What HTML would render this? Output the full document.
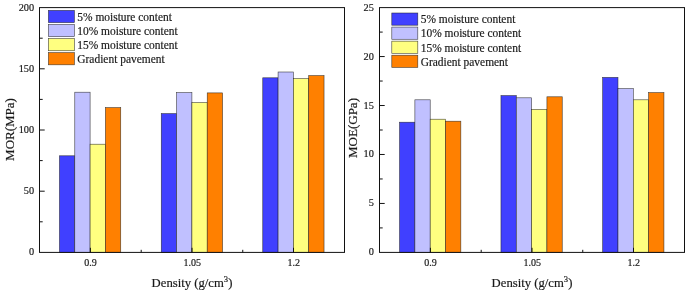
<!DOCTYPE html>
<html><head><meta charset="utf-8"><title>MOR and MOE vs density</title>
<style>
html,body{margin:0;padding:0;background:#fff;}
svg{display:block;font-family:"Liberation Serif","Times New Roman",serif;fill:#1a1a1a;}
text{stroke:#1a1a1a;stroke-width:0.18px;}
</style></head><body>
<svg width="685" height="292" viewBox="0 0 685 292">
<rect x="0" y="0" width="685" height="292" fill="#fff"/>
<rect x="59.46" y="155.80" width="15.32" height="96.60" fill="#4040ff" stroke="#222" stroke-opacity="0.85" stroke-width="0.6"/>
<rect x="74.78" y="92.20" width="15.32" height="160.20" fill="#c0c0ff" stroke="#222" stroke-opacity="0.85" stroke-width="0.6"/>
<rect x="90.10" y="144.20" width="15.32" height="108.20" fill="#ffff80" stroke="#222" stroke-opacity="0.85" stroke-width="0.6"/>
<rect x="105.42" y="107.60" width="15.32" height="144.80" fill="#ff8000" stroke="#222" stroke-opacity="0.85" stroke-width="0.6"/>
<rect x="161.26" y="113.60" width="15.32" height="138.80" fill="#4040ff" stroke="#222" stroke-opacity="0.85" stroke-width="0.6"/>
<rect x="176.58" y="92.60" width="15.32" height="159.80" fill="#c0c0ff" stroke="#222" stroke-opacity="0.85" stroke-width="0.6"/>
<rect x="191.90" y="102.60" width="15.32" height="149.80" fill="#ffff80" stroke="#222" stroke-opacity="0.85" stroke-width="0.6"/>
<rect x="207.22" y="92.90" width="15.32" height="159.50" fill="#ff8000" stroke="#222" stroke-opacity="0.85" stroke-width="0.6"/>
<rect x="262.76" y="77.80" width="15.32" height="174.60" fill="#4040ff" stroke="#222" stroke-opacity="0.85" stroke-width="0.6"/>
<rect x="278.08" y="72.00" width="15.32" height="180.40" fill="#c0c0ff" stroke="#222" stroke-opacity="0.85" stroke-width="0.6"/>
<rect x="293.40" y="78.60" width="15.32" height="173.80" fill="#ffff80" stroke="#222" stroke-opacity="0.85" stroke-width="0.6"/>
<rect x="308.72" y="75.60" width="15.32" height="176.80" fill="#ff8000" stroke="#222" stroke-opacity="0.85" stroke-width="0.6"/>
<rect x="39.5" y="7.6" width="305.0" height="244.8" fill="none" stroke="#111" stroke-width="1"/>
<text x="34.1" y="255.40" text-anchor="end" font-size="10.3">0</text>
<line x1="39.5" y1="221.80" x2="42.7" y2="221.80" stroke="#111" stroke-width="1"/>
<line x1="39.5" y1="191.20" x2="44.7" y2="191.20" stroke="#111" stroke-width="1"/>
<text x="34.1" y="194.20" text-anchor="end" font-size="10.3">50</text>
<line x1="39.5" y1="160.60" x2="42.7" y2="160.60" stroke="#111" stroke-width="1"/>
<line x1="39.5" y1="130.00" x2="44.7" y2="130.00" stroke="#111" stroke-width="1"/>
<text x="34.1" y="133.00" text-anchor="end" font-size="10.3">100</text>
<line x1="39.5" y1="99.40" x2="42.7" y2="99.40" stroke="#111" stroke-width="1"/>
<line x1="39.5" y1="68.80" x2="44.7" y2="68.80" stroke="#111" stroke-width="1"/>
<text x="34.1" y="71.80" text-anchor="end" font-size="10.3">150</text>
<line x1="39.5" y1="38.20" x2="42.7" y2="38.20" stroke="#111" stroke-width="1"/>
<text x="34.1" y="10.60" text-anchor="end" font-size="10.3">200</text>
<line x1="90.4" y1="252.4" x2="90.4" y2="247.8" stroke="#111" stroke-width="1"/>
<line x1="192" y1="252.4" x2="192" y2="247.8" stroke="#111" stroke-width="1"/>
<line x1="293.5" y1="252.4" x2="293.5" y2="247.8" stroke="#111" stroke-width="1"/>
<line x1="141.2" y1="252.4" x2="141.2" y2="249.8" stroke="#111" stroke-width="1"/>
<line x1="242.75" y1="252.4" x2="242.75" y2="249.8" stroke="#111" stroke-width="1"/>
<text x="90.60000000000001" y="266.2" text-anchor="middle" font-size="10">0.9</text>
<text x="192.2" y="266.2" text-anchor="middle" font-size="10">1.05</text>
<text x="293.7" y="266.2" text-anchor="middle" font-size="10">1.2</text>
<text x="192.0" y="287.4" text-anchor="middle" font-size="12.7">Density (g/cm<tspan dy="-5.6" font-size="8.6">3</tspan><tspan dy="5.6">)</tspan></text>
<text transform="translate(13.9,129.5) rotate(-90)" text-anchor="middle" font-size="13">MOR(MPa)</text>
<rect x="48.40" y="10.40" width="26" height="12.2" fill="#4040ff" stroke="#222" stroke-opacity="0.85" stroke-width="0.6"/>
<text x="77.30" y="20.60" font-size="11.45">5% moisture content</text>
<rect x="48.40" y="24.47" width="26" height="12.2" fill="#c0c0ff" stroke="#222" stroke-opacity="0.85" stroke-width="0.6"/>
<text x="77.30" y="34.67" font-size="11.45">10% moisture content</text>
<rect x="48.40" y="38.54" width="26" height="12.2" fill="#ffff80" stroke="#222" stroke-opacity="0.85" stroke-width="0.6"/>
<text x="77.30" y="48.74" font-size="11.45">15% moisture content</text>
<rect x="48.40" y="52.61" width="26" height="12.2" fill="#ff8000" stroke="#222" stroke-opacity="0.85" stroke-width="0.6"/>
<text x="77.30" y="62.81" font-size="11.45">Gradient pavement</text>
<rect x="399.56" y="122.20" width="15.32" height="130.20" fill="#4040ff" stroke="#222" stroke-opacity="0.85" stroke-width="0.6"/>
<rect x="414.88" y="99.80" width="15.32" height="152.60" fill="#c0c0ff" stroke="#222" stroke-opacity="0.85" stroke-width="0.6"/>
<rect x="430.20" y="119.20" width="15.32" height="133.20" fill="#ffff80" stroke="#222" stroke-opacity="0.85" stroke-width="0.6"/>
<rect x="445.52" y="121.20" width="15.32" height="131.20" fill="#ff8000" stroke="#222" stroke-opacity="0.85" stroke-width="0.6"/>
<rect x="500.96" y="95.60" width="15.32" height="156.80" fill="#4040ff" stroke="#222" stroke-opacity="0.85" stroke-width="0.6"/>
<rect x="516.28" y="97.80" width="15.32" height="154.60" fill="#c0c0ff" stroke="#222" stroke-opacity="0.85" stroke-width="0.6"/>
<rect x="531.60" y="109.40" width="15.32" height="143.00" fill="#ffff80" stroke="#222" stroke-opacity="0.85" stroke-width="0.6"/>
<rect x="546.92" y="96.80" width="15.32" height="155.60" fill="#ff8000" stroke="#222" stroke-opacity="0.85" stroke-width="0.6"/>
<rect x="602.66" y="77.40" width="15.32" height="175.00" fill="#4040ff" stroke="#222" stroke-opacity="0.85" stroke-width="0.6"/>
<rect x="617.98" y="88.60" width="15.32" height="163.80" fill="#c0c0ff" stroke="#222" stroke-opacity="0.85" stroke-width="0.6"/>
<rect x="633.30" y="99.80" width="15.32" height="152.60" fill="#ffff80" stroke="#222" stroke-opacity="0.85" stroke-width="0.6"/>
<rect x="648.62" y="92.60" width="15.32" height="159.80" fill="#ff8000" stroke="#222" stroke-opacity="0.85" stroke-width="0.6"/>
<rect x="379.5" y="7.6" width="305.0" height="244.8" fill="none" stroke="#111" stroke-width="1"/>
<text x="373.8" y="255.40" text-anchor="end" font-size="10.3">0</text>
<line x1="379.5" y1="227.92" x2="382.7" y2="227.92" stroke="#111" stroke-width="1"/>
<line x1="379.5" y1="203.44" x2="384.7" y2="203.44" stroke="#111" stroke-width="1"/>
<text x="373.8" y="206.44" text-anchor="end" font-size="10.3">5</text>
<line x1="379.5" y1="178.96" x2="382.7" y2="178.96" stroke="#111" stroke-width="1"/>
<line x1="379.5" y1="154.48" x2="384.7" y2="154.48" stroke="#111" stroke-width="1"/>
<text x="373.8" y="157.48" text-anchor="end" font-size="10.3">10</text>
<line x1="379.5" y1="130.00" x2="382.7" y2="130.00" stroke="#111" stroke-width="1"/>
<line x1="379.5" y1="105.52" x2="384.7" y2="105.52" stroke="#111" stroke-width="1"/>
<text x="373.8" y="108.52" text-anchor="end" font-size="10.3">15</text>
<line x1="379.5" y1="81.04" x2="382.7" y2="81.04" stroke="#111" stroke-width="1"/>
<line x1="379.5" y1="56.56" x2="384.7" y2="56.56" stroke="#111" stroke-width="1"/>
<text x="373.8" y="59.56" text-anchor="end" font-size="10.3">20</text>
<line x1="379.5" y1="32.08" x2="382.7" y2="32.08" stroke="#111" stroke-width="1"/>
<text x="373.8" y="10.60" text-anchor="end" font-size="10.3">25</text>
<line x1="430.4" y1="252.4" x2="430.4" y2="247.8" stroke="#111" stroke-width="1"/>
<line x1="532" y1="252.4" x2="532" y2="247.8" stroke="#111" stroke-width="1"/>
<line x1="633.5" y1="252.4" x2="633.5" y2="247.8" stroke="#111" stroke-width="1"/>
<line x1="481.2" y1="252.4" x2="481.2" y2="249.8" stroke="#111" stroke-width="1"/>
<line x1="582.75" y1="252.4" x2="582.75" y2="249.8" stroke="#111" stroke-width="1"/>
<text x="430.59999999999997" y="266.2" text-anchor="middle" font-size="10">0.9</text>
<text x="532.2" y="266.2" text-anchor="middle" font-size="10">1.05</text>
<text x="633.7" y="266.2" text-anchor="middle" font-size="10">1.2</text>
<text x="532.0" y="287.4" text-anchor="middle" font-size="12.7">Density (g/cm<tspan dy="-5.6" font-size="8.6">3</tspan><tspan dy="5.6">)</tspan></text>
<text transform="translate(357.0,128) rotate(-90)" text-anchor="middle" font-size="13">MOE(GPa)</text>
<rect x="391.80" y="13.00" width="26" height="12.2" fill="#4040ff" stroke="#222" stroke-opacity="0.85" stroke-width="0.6"/>
<text x="420.70" y="22.90" font-size="11.45">5% moisture content</text>
<rect x="391.80" y="27.07" width="26" height="12.2" fill="#c0c0ff" stroke="#222" stroke-opacity="0.85" stroke-width="0.6"/>
<text x="420.70" y="37.20" font-size="11.45">10% moisture content</text>
<rect x="391.80" y="41.14" width="26" height="12.2" fill="#ffff80" stroke="#222" stroke-opacity="0.85" stroke-width="0.6"/>
<text x="420.70" y="51.50" font-size="11.45">15% moisture content</text>
<rect x="391.80" y="55.21" width="26" height="12.2" fill="#ff8000" stroke="#222" stroke-opacity="0.85" stroke-width="0.6"/>
<text x="420.70" y="65.80" font-size="11.45">Gradient pavement</text>
</svg>
</body></html>
